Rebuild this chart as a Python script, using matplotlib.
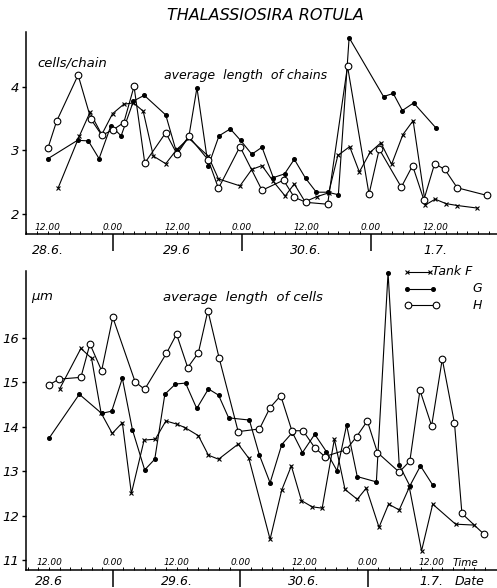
import matplotlib
matplotlib.use("Agg")
import matplotlib.pyplot as plt
from matplotlib.transforms import blended_transform_factory

plt.rcParams['font.family'] = ['DejaVu Sans']
plt.rcParams['font.style'] = 'italic'
plt.rcParams['mathtext.default'] = 'it'

# Hours counted from 28.6., 12.00
# --- average length of chains (cells/chain) ---
f_chain_t = [1.9, 5.8, 7.8, 10, 12, 14.1, 15.9, 17.7, 19.6, 21.9, 24, 26.2, 29.8, 31.7, 35.7,
             37.9, 39.8, 41.9, 44.1, 45.8, 47.8, 50, 52.2, 53.9, 56.1, 57.9, 59.9, 61.9, 63.9,
             66, 67.9, 70.2, 72, 74, 76.1, 79.8]
f_chain_v = [2.41, 3.22, 3.60, 3.25, 3.58, 3.73, 3.75, 3.62, 2.91, 2.79, 3.02, 3.19, 2.91, 2.55, 2.44,
             2.70, 2.76, 2.51, 2.28, 2.47, 2.19, 2.27, 2.33, 2.92, 3.06, 2.66, 2.97, 3.12, 2.78,
             3.25, 3.47, 2.14, 2.23, 2.16, 2.13, 2.09]

g_chain_t = [0, 5.5, 7.5, 9.5, 11.7, 13.6, 15.9, 17.9, 21.9, 23.9, 26.2, 27.7, 29.8, 31.8, 33.9,
             35.8, 37.9, 39.8, 41.9, 44, 45.8, 47.9, 49.9, 52, 54, 56, 62.4, 64.2, 65.9, 68, 72.2]
g_chain_v = [2.87, 3.16, 3.15, 2.87, 3.39, 3.23, 3.78, 3.87, 3.56, 2.97, 3.22, 3.99, 2.75, 3.23, 3.34,
             3.16, 2.94, 3.05, 2.57, 2.63, 2.86, 2.56, 2.34, 2.34, 2.30, 4.78, 3.85, 3.90, 3.63, 3.75, 3.35]

h_chain_t = [0, 1.6, 5.6, 8, 10, 12, 14.1, 16, 18, 21.9, 24, 26.2, 29.8, 31.7, 35.7, 39.8, 43.8,
             45.8, 48, 52, 55.7, 59.7, 61.6, 65.7, 67.8, 69.9, 71.9, 73.8, 76.1, 81.6]
h_chain_v = [3.04, 3.46, 4.19, 3.49, 3.24, 3.32, 3.44, 4.01, 2.80, 3.28, 2.94, 3.22, 2.85, 2.40, 3.06,
             2.37, 2.53, 2.26, 2.18, 2.15, 4.33, 2.31, 3.02, 2.42, 2.76, 2.22, 2.79, 2.70, 2.41, 2.29]

# --- average length of cells (um) ---
f_cell_t = [2, 6, 8, 9.8, 11.9, 13.8, 15.5, 17.9, 20, 22, 24, 25.6, 28.1, 30, 31.9, 35.6, 37.6,
            41.6, 43.8, 45.6, 47.5, 49.5, 51.4, 53.7, 55.7, 58, 59.7, 62.1, 63.9, 65.9, 67.8,
            70.1, 72.2, 76.5, 79.9]
f_cell_v = [14.85, 15.76, 15.54, 14.31, 13.85, 14.09, 12.50, 13.70, 13.72, 14.13, 14.06, 13.98,
            13.80, 13.36, 13.27, 13.61, 13.29, 11.47, 12.58, 13.12, 12.34, 12.20, 12.17, 13.72,
            12.59, 12.37, 12.62, 11.74, 12.26, 12.13, 12.64, 11.21, 12.26, 11.81, 11.79]

g_cell_t = [0, 5.7, 9.9, 11.8, 13.8, 15.7, 18, 19.9, 21.8, 23.8, 25.7, 27.8, 30, 31.9, 33.8, 37.7,
            39.6, 41.6, 43.8, 45.8, 47.7, 50, 52.2, 54.2, 56, 58, 61.6, 63.8, 65.9, 67.9, 69.9, 72.2]
g_cell_v = [13.74, 14.73, 14.30, 14.35, 15.09, 13.93, 13.03, 13.27, 14.73, 14.96, 14.98, 14.41,
            14.85, 14.71, 14.20, 14.15, 13.36, 12.74, 13.60, 13.87, 13.42, 13.83, 13.44, 13.01,
            14.04, 12.88, 12.76, 17.46, 13.14, 12.67, 13.12, 12.69]

h_cell_t = [0, 1.9, 6, 7.7, 9.9, 12, 16.2, 18, 22.1, 24, 26.1, 28.1, 29.9, 32, 35.6, 39.6, 41.6,
            43.6, 45.7, 47.8, 50, 51.9, 55.9, 57.9, 59.9, 61.8, 65.9, 67.9, 69.8, 72, 74, 76.3,
            77.7, 81.8]
h_cell_v = [14.94, 15.07, 15.11, 15.86, 15.26, 16.46, 15.01, 14.84, 15.65, 16.08, 15.33, 15.66,
            16.61, 15.55, 13.89, 13.95, 14.43, 14.70, 13.91, 13.91, 13.53, 13.33, 13.48, 13.78,
            14.13, 13.42, 12.98, 13.23, 14.82, 14.02, 15.52, 14.08, 12.05, 11.59]

# axis labelling
time_pos = [0, 12, 24, 36, 48, 60, 72]
time_labels = ["12.00", "0.00", "12.00", "0.00", "12.00", "0.00", "12.00"]
midnights = [12, 36, 60]
date_pos = [0, 24, 48, 72]
dates_top = ["28.6.", "29.6", "30.6.", "1.7."]
dates_bottom = ["28.6", "29.6.", "30.6.", "1.7."]
chain_ticks = [2, 3, 4]
cell_ticks = [11, 12, 13, 14, 15, 16]
legend_labels = ["Tank F", "G", "H"]

styles = {
    "F": dict(marker='x', markersize=3.5, markeredgewidth=0.8, color='black', lw=0.8),
    "G": dict(marker='o', markersize=2.6, color='black', lw=0.8),
    "H": dict(marker='o', markersize=4.8, markerfacecolor='white', markeredgecolor='black',
              markeredgewidth=0.8, color='black', lw=0.8),
}

W, H = 497, 588
fig = plt.figure(figsize=(W / 100, H / 100), dpi=100)


def frame(px_left, px_right, py_top, py_bottom):
    return fig.add_axes([px_left / W, 1 - py_bottom / H,
                         (px_right - px_left) / W, (py_bottom - py_top) / H])


ax1 = frame(26, 497, 32, 234)
ax2 = frame(26, 497, 271, 570)


def style_axis(ax, yticks):
    for s in ('top', 'right'):
        ax.spines[s].set_visible(False)
    for s in ('left', 'bottom'):
        ax.spines[s].set_linewidth(1.1)
    ax.set_yticks(yticks)
    ax.set_yticklabels([str(t) for t in yticks], fontsize=9.5)
    ax.tick_params(axis='y', direction='out', length=3, width=1, pad=2)
    ax.set_xticks(midnights)
    ax.set_xticklabels([])
    ax.tick_params(axis='x', which='major', direction='out', length=12.5, width=1.1)
    ax.set_xticks(list(range(-4, 84, 2)), minor=True)
    ax.tick_params(axis='x', which='minor', direction='in', length=2, width=0.7)
    return blended_transform_factory(ax.transData, ax.transAxes)


# upper panel
ax1.set_xlim(-4.09, 83.5)
ax1.set_ylim(1.68, 4.87)
tr1 = style_axis(ax1, chain_ticks)
ax1.plot(f_chain_t, f_chain_v, **styles["F"])
ax1.plot(g_chain_t, g_chain_v, **styles["G"])
ax1.plot(h_chain_t, h_chain_v, **styles["H"])
for x, lab in zip(time_pos, time_labels):
    ax1.text(x, 0.032, lab, transform=tr1, ha='center', va='center', fontsize=6.5)
for x, lab in zip(date_pos, dates_top):
    ax1.text(x, -0.08, lab, transform=tr1, ha='center', va='center', fontsize=9)
ax1.text(0.024, 0.845, "cells/chain", transform=ax1.transAxes, fontsize=9.5, va='center')
ax1.text(0.466, 0.785, "average  length  of chains", transform=ax1.transAxes,
         fontsize=9, ha='center', va='center')

# lower panel
ax2.set_xlim(-4.33, 84.3)
ax2.set_ylim(10.78, 17.5)
tr2 = style_axis(ax2, cell_ticks)
ax2.plot(f_cell_t, f_cell_v, **styles["F"])
ax2.plot(g_cell_t, g_cell_v, **styles["G"])
ax2.plot(h_cell_t, h_cell_v, **styles["H"])
for x, lab in zip(time_pos, time_labels):
    ax2.text(x, 0.024, lab, transform=tr2, ha='center', va='center', fontsize=6.5)
ax2.text(0.905, 0.024, "Time", transform=ax2.transAxes, ha='left', va='center', fontsize=7.5)
for x, lab in zip(date_pos, dates_bottom):
    ax2.text(x, -0.037, lab, transform=tr2, ha='center', va='center', fontsize=9)
ax2.text(0.91, -0.037, "Date", transform=ax2.transAxes, ha='left', va='center', fontsize=9)
ax2.text(0.01, 0.91, r"$\mu$m", transform=ax2.transAxes, fontsize=9.5, va='center')
ax2.text(0.46, 0.91, "average  length  of cells", transform=ax2.transAxes,
         fontsize=9.5, ha='center', va='center')

# legend drawn by hand: marker at both ends of a short line
rows = [("F", 0.997, 0.809, 0.858), ("G", 0.94, 0.809, 0.864), ("H", 0.886, 0.811, 0.870)]
for (key, y, x0, x1), lab in zip(rows, legend_labels):
    ax2.plot([x0, x1], [y, y], transform=ax2.transAxes, clip_on=False, **styles[key])
    if key == "F":
        ax2.text(0.862, y, lab, transform=ax2.transAxes, ha='left', va='center', fontsize=9)
    else:
        ax2.text(0.968, y, lab, transform=ax2.transAxes, ha='right', va='center', fontsize=9)

fig.text(265 / W, 1 - 15 / H, "THALASSIOSIRA ROTULA", ha='center', va='center', fontsize=11.5)

fig.savefig("out.png", dpi=100)
